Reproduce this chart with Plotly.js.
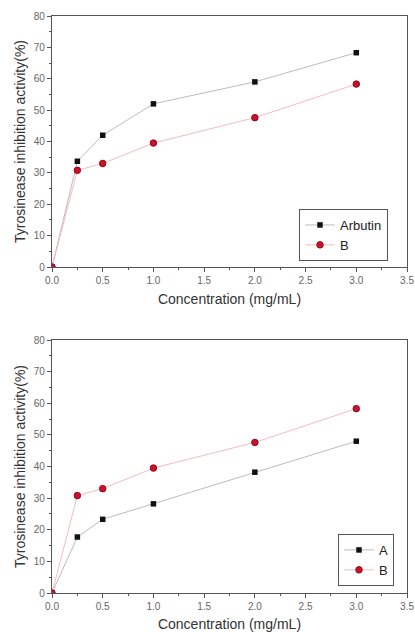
<!DOCTYPE html>
<html><head><meta charset="utf-8">
<script src="https://cdn.plot.ly/plotly-3.0.1.min.js"></script>
<style>html,body{margin:0;padding:0;background:#fff}#chart{width:415px;height:632px}</style>
</head><body><div id="chart"></div>
<script>
const conc = [0, 0.25, 0.5, 1, 2, 3];
const arbutin = [0, 33.7, 42.0, 52.0, 59.0, 68.3];
const sampleB = [0, 30.8, 33.0, 39.5, 47.6, 58.3];
const sampleA = [0, 17.7, 23.3, 28.2, 38.2, 48.0];
const xTicks = [0, 0.5, 1.0, 1.5, 2.0, 2.5, 3.0, 3.5];
const xTickText = ['0.0','0.5','1.0','1.5','2.0','2.5','3.0','3.5'];
const yTicks = [0, 10, 20, 30, 40, 50, 60, 70, 80];

const sqMarker = {symbol:'square', size:5.5, color:'#111'};
const ciMarker = {symbol:'circle', size:6.5, color:'#d0102a', line:{color:'#8a0a1a', width:1}};
const grayLine = {color:'#bcbcbc', width:1};
const pinkLine = {color:'#f2bcc4', width:1};

const traces = [
  {x:conc, y:arbutin, name:'Arbutin', mode:'lines+markers', line:grayLine, marker:sqMarker, xaxis:'x', yaxis:'y', legend:'legend'},
  {x:conc, y:sampleB, name:'B', mode:'lines+markers', line:pinkLine, marker:ciMarker, xaxis:'x', yaxis:'y', legend:'legend'},
  {x:conc, y:sampleA, name:'A', mode:'lines+markers', line:grayLine, marker:sqMarker, xaxis:'x2', yaxis:'y2', legend:'legend2'},
  {x:conc, y:sampleB, name:'B', mode:'lines+markers', line:pinkLine, marker:ciMarker, xaxis:'x2', yaxis:'y2', legend:'legend2'}
];

const font = {family:'Liberation Sans, Arial, sans-serif', color:'#333', size:10};
function xa(anchor){
  return {anchor:anchor, domain:[52/415, 407/415], range:[0,3.5], tickvals:xTicks, ticktext:xTickText,
    ticks:'outside', ticklen:4, tickcolor:'#555', showline:true, linecolor:'#555', linewidth:1.2, mirror:true,
    showgrid:false, zeroline:false, tickfont:{size:10, color:'#666'},
    minor:{dtick:0.25, ticks:'outside', ticklen:2, tickcolor:'#555'},
    title:{text:'Concentration (mg/mL)', font:{size:14, color:'#333'}, standoff:9}};
}
function ya(anchor, dom){
  return {anchor:anchor, domain:dom, range:[0,80], tickvals:yTicks,
    ticks:'outside', ticklen:4, tickcolor:'#555', showline:true, linecolor:'#555', linewidth:1.2, mirror:true,
    showgrid:false, zeroline:false, tickfont:{size:10, color:'#666'},
    minor:{dtick:5, ticks:'outside', ticklen:2, tickcolor:'#555'},
    title:{text:'Tyrosinease inhibition activity(%)', font:{size:14, color:'#333'}, standoff:4}};
}
const layout = {
  width:415, height:632, margin:{l:0,r:0,t:0,b:0}, paper_bgcolor:'#fff', plot_bgcolor:'#fff',
  font:font, showlegend:true,
  xaxis:xa('y'), yaxis:ya('x', [365/632, 616/632]),
  xaxis2:xa('y2'), yaxis2:ya('x2', [39/632, 292/632]),
  legend:{x:299/415, y:1-209/632, xanchor:'left', yanchor:'top', bordercolor:'#555', borderwidth:1,
    bgcolor:'#fff', font:{size:13, color:'#222'}, tracegroupgap:0, itemwidth:30},
  legend2:{x:338/415, y:1-534/632, xanchor:'left', yanchor:'top', bordercolor:'#555', borderwidth:1,
    bgcolor:'#fff', font:{size:13, color:'#222'}, tracegroupgap:0, itemwidth:30}
};
Plotly.newPlot('chart', traces, layout, {displayModeBar:false, staticPlot:true});
</script></body></html>
